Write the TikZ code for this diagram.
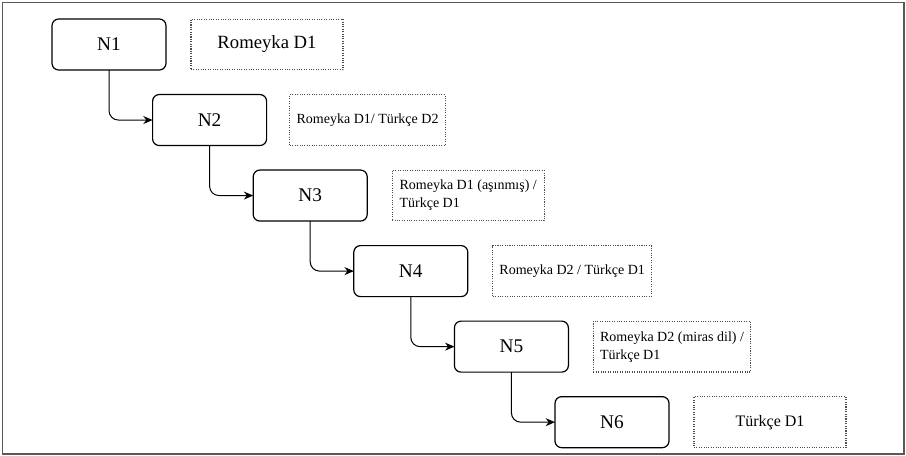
\documentclass[tikz,border=0pt]{standalone}
\usepackage{fontspec}
\setmainfont{Liberation Serif}
\usepackage{tikz}
\usetikzlibrary{arrows.meta, positioning}

\begin{document}
\begin{tikzpicture}[
  x=0.75pt, y=-0.75pt,
  stage/.style={rectangle, draw=black, rounded corners=5pt, line width=0.9pt,
                outer sep=0pt, minimum width=85.5pt, minimum height=38.25pt,
                align=center, font=\fontsize{14.5}{17}\selectfont},
  note/.style={rectangle, draw=black!70, densely dotted, line width=0.8pt,
               outer sep=0pt, minimum width=114pt, minimum height=38pt,
               inner sep=5pt, align=left,
               font=\fontsize{10.5}{13.5}\selectfont},
  arr/.style={-{Stealth[length=7pt, width=6pt]}, line width=0.75pt,
              rounded corners=7pt}
]
  %% -- frame ---------------------------------------------------------
  \useasboundingbox (0,0) rectangle (906,456);
  \draw[black!65, line width=0.9pt] (2.5,2.5) rectangle (904,454);

  %% -- stages, stepping down to the right ----------------------------
  \node[stage] (n1) at (109,44.5) {N1};
  \node[stage, below right=18.4pt and -10.05pt of n1] (n2) {N2};
  \node[stage, below right=18.4pt and -10.05pt of n2] (n3) {N3};
  \node[stage, below right=18.4pt and -10.05pt of n3] (n4) {N4};
  \node[stage, below right=18.4pt and -10.05pt of n4] (n5) {N5};
  \node[stage, below right=18.4pt and -10.05pt of n5] (n6) {N6};

  %% -- language notes ------------------------------------------------
  \node[note, right=18.75pt of n1, font=\fontsize{14}{16}\selectfont] (r1) {Romeyka D1};
  \node[note, right=17.5pt of n2] (r2) {Romeyka D1/ Türkçe D2};
  \node[note, right=18.75pt of n3] (r3) {Romeyka D1 (aşınmış) /\\Türkçe D1};
  \node[note, right=18.75pt of n4] (r4) {Romeyka D2 / Türkçe D1};
  \node[note, right=18.75pt of n5] (r5) {Romeyka D2 (miras dil) /\\Türkçe D1};
  \node[note, right=18.75pt of n6, font=\fontsize{12}{14}\selectfont] (r6) {Türkçe D1};

  %% -- arrows --------------------------------------------------------
  \draw[arr] (n1.south) |- (n2.west);
  \draw[arr] (n2.south) |- (n3.west);
  \draw[arr] (n3.south) |- (n4.west);
  \draw[arr] (n4.south) |- (n5.west);
  \draw[arr] (n5.south) |- (n6.west);
\end{tikzpicture}
\end{document}
